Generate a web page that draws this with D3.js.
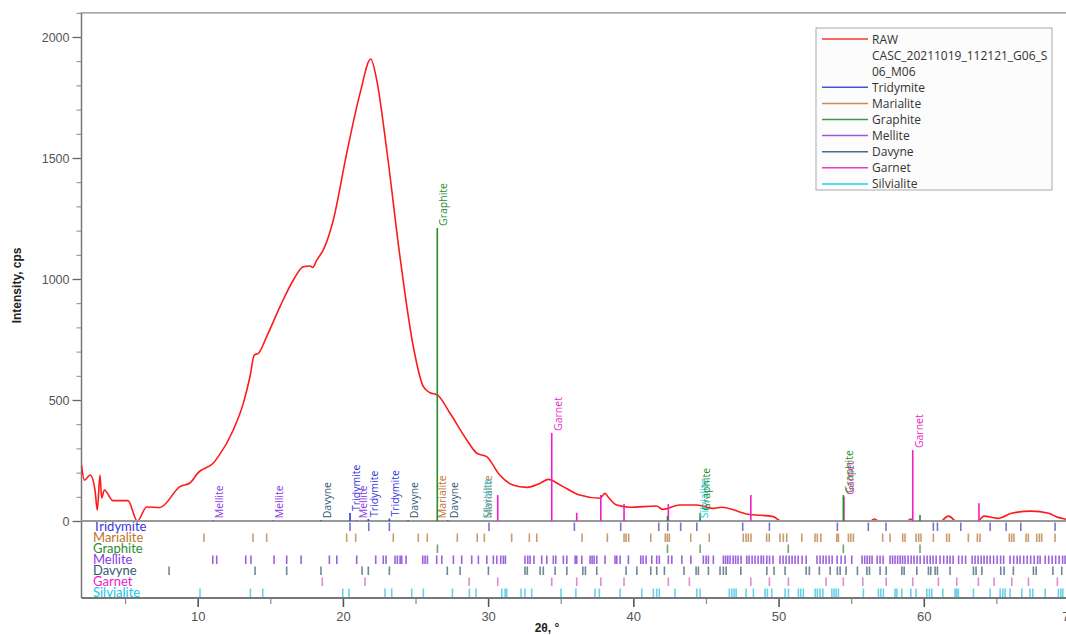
<!DOCTYPE html>
<html>
<head>
<meta charset="utf-8">
<script src="https://cdn.jsdelivr.net/npm/d3@7"></script>
<style>
  html, body { margin: 0; padding: 0; background: #fff; }
</style>
</head>
<body>
<div id="xrd"></div>
<script>
// RAW pattern (2theta, cps)
const rawTheta = [2.0, 2.2, 2.6, 2.93, 3.09, 3.27, 3.39, 3.57, 4.17, 5.2, 5.84, 6.49, 7.4, 8.78, 9.47, 10.04,
  11.08, 11.42, 12.45, 13.14, 13.6, 13.9, 14.18, 14.75, 15.67, 16.59, 17.27, 17.74, 17.92, 18.2, 18.65,
  19.34, 20.26, 21.18, 21.92, 22.33, 23.02, 23.93, 24.85, 25.54, 26.0, 26.5, 27.38, 28.53, 29.22, 29.9,
  30.8, 31.7, 32.66, 33.58, 34.15, 34.96, 36.3, 37.7, 38.05, 38.28, 38.86, 39.78, 41.6, 42.0, 43.2,
  44.37, 45.5, 46.1, 47.8, 49.65, 50.0, 50.6, 56.0, 56.6, 57.2, 58.6, 59.1, 59.6, 60.9, 61.7, 62.5,
  63.6, 64.15, 65.1, 66.05, 67.4, 68.6, 69.2, 70.0];
const rawIntensity = [231, 169, 190, 128, 45, 190, 95, 128, 84, 84, 0, 58, 56, 142, 157, 200,
  240, 266, 376, 486, 596, 686, 693, 762, 886, 996, 1051, 1054, 1048, 1078, 1120,
  1244, 1519, 1767, 1909, 1822, 1533, 1092, 720, 555, 530, 521, 445, 335, 280, 266,
  190, 149, 139, 156, 172, 149, 107, 94, 114, 98, 66, 57, 62, 48, 66,
  66, 52, 57, 29, 18, 4, -15, -15, 8, -15, -15, 8, -15, -15, 20, -15,
  -10, 20, 11, 32, 41, 32, 16, 5];

// phases (row order)
const phaseNames = ["Tridymite", "Marialite", "Graphite", "Mellite", "Davyne", "Garnet", "Silvialite"];
const phaseColors = ["#3535e0", "#c0732a", "#2b8c2b", "#8a38e6", "#2f5a74", "#f01cc8", "#10c8e8"];
const rowTickColors = ["#4848b8", "#b87a3c", "#3d8a3d", "#7a2ed0", "#3c5f74", "#cc66bb", "#33c4e0"];
const legendColors = ["#4452dd", "#cc8a5a", "#3a9a48", "#9a58de", "#4a6a84", "#ee36cc", "#22ccee"];

// reference line positions per phase (2theta)
const tridymiteRefs = [20.49, 21.78, 23.2, 30.06, 35.94, 39.13, 41.75, 42.37, 43.26, 44.37, 47.53, 49.37,
  54.05, 56.18, 57.4, 60.66, 60.94, 62.55, 64.57, 65.67, 66.68, 69.04];
const marialiteRefs = [10.43, 13.81, 14.75, 20.26, 20.88, 23.47, 25.19, 25.81, 27.88, 29.25, 29.74, 31.62,
  32.84, 33.35, 36.47, 38.21, 39.36, 39.5, 39.68, 41.2, 42.2, 42.34, 42.48, 43.95, 45.23, 47.57, 47.76,
  47.92, 48.1, 49.18, 49.36, 50.1, 50.33, 50.56, 51.6, 52.51, 52.67, 52.91, 54.01, 54.12, 54.81, 54.97,
  55.15, 57.17, 57.68, 58.55, 58.71, 59.47, 59.65, 59.81, 60.66, 61.58, 61.76, 63.07, 63.69, 63.87,
  65.89, 66.05, 66.21, 67.04, 67.2, 67.78, 67.96, 68.12, 69.04];
const graphiteRefs = [26.51, 42.35, 44.6, 50.67, 54.46, 59.74];
const melliteRefs = [11.04, 11.31, 13.31, 13.67, 15.26, 16.13, 17.12, 19.07, 19.58, 20.95, 22.26, 22.78,
  22.97, 23.59, 23.75, 23.94, 24.05, 24.35, 25.5, 25.66, 25.82, 26.46, 26.81, 27.61, 28.18, 28.87, 29.33,
  29.91, 30.36, 30.6, 30.87, 31.05, 31.19, 32.54, 32.73, 32.89, 33.16, 33.69, 34.04, 34.49, 34.66, 35.18,
  35.42, 35.99, 36.1, 36.45, 37.02, 37.16, 37.3, 37.48, 38.05, 38.74, 38.86, 39.09, 39.66, 40.51, 40.67,
  40.88, 41.27, 41.61, 41.79, 42.41, 42.65, 43.34, 43.96, 44.82, 45.01, 45.17, 45.51, 46.2, 46.35, 46.5,
  46.66, 46.87, 47.04, 47.21, 47.42, 47.81, 47.97, 48.18, 48.38, 48.59, 48.8, 48.96, 49.19, 49.38, 49.62,
  50.1, 50.31, 50.52, 50.73, 50.93, 51.14, 51.35, 51.62, 51.9, 52.65, 52.86, 53.07, 53.27, 53.48, 53.69,
  54.03, 54.31, 54.58, 55.04, 55.75, 55.93, 56.1, 56.27, 56.44, 56.79, 56.99, 57.2, 57.68, 57.85, 58.02,
  58.2, 58.37, 58.54, 58.71, 58.92, 59.13, 59.33, 59.54, 59.75, 60.02, 60.23, 60.44, 60.64, 60.85, 61.12,
  61.37, 61.61, 61.81, 62.02, 62.4, 62.64, 62.88, 63.33, 63.53, 63.74, 63.95, 64.15, 64.36, 64.57, 64.81,
  65.05, 65.29, 65.5, 65.94, 66.19, 66.43, 66.63, 66.88, 67.12, 67.36, 67.6, 67.84, 68.01, 68.36, 68.6,
  68.84, 69.08, 69.32, 69.56, 69.73];
const davyneRefs = [8.03, 13.95, 16.13, 18.49, 21.32, 21.75, 23.2, 27.19, 28.07, 30.02, 32.54, 32.7, 33.58,
  33.8, 34.61, 35.42, 36.52, 36.7, 37.48, 39.5, 40.24, 41.2, 41.61, 42.14, 43.49, 44.32, 44.48, 45.17,
  45.97, 46.2, 46.39, 47.4, 49.19, 49.69, 50.45, 51.9, 52.12, 52.81, 53.55, 54.05, 54.24, 54.65, 55.43,
  56.08, 56.26, 56.99, 57.41, 58.49, 58.65, 59.52, 60.32, 60.48, 60.78, 60.94, 61.81, 63.42, 63.6, 64.0,
  65.3, 65.53, 66.17, 67.55, 67.74, 68.89, 69.5];
const garnetRefs = [18.58, 21.52, 28.69, 30.66, 34.38, 36.1, 37.76, 39.36, 42.41, 43.86, 48.09, 49.37,
  50.68, 53.27, 54.46, 55.8, 57.41, 59.24, 61.01, 62.27, 63.76, 64.84, 66.06, 67.21, 69.2];
const silvialiteRefs = [10.16, 13.63, 14.48, 19.99, 20.42, 22.9, 23.36, 24.74, 25.54, 27.54, 28.71, 29.17,
  30.94, 31.17, 31.28, 32.27, 32.54, 33.0, 35.02, 36.04, 37.36, 37.66, 39.09, 40.58, 41.38, 41.61, 41.79,
  42.87, 44.37, 44.6, 46.61, 46.78, 46.94, 47.08, 47.76, 48.27, 49.07, 49.23, 49.53, 50.45, 50.68, 51.37,
  51.53, 51.71, 52.52, 52.67, 52.86, 53.05, 53.67, 53.82, 53.96, 54.12, 55.84, 56.88, 57.04, 57.22, 58.02,
  58.14, 58.49, 59.11, 59.47, 60.21, 60.39, 60.55, 61.31, 62.16, 62.27, 62.38, 63.42, 64.57, 65.26, 65.44,
  65.6, 65.94, 66.75, 67.32, 67.51, 68.36, 69.27, 69.44, 69.57];
const phaseRefs = [tridymiteRefs, marialiteRefs, graphiteRefs, melliteRefs, davyneRefs, garnetRefs, silvialiteRefs];

// sticks drawn above the zero line (phase index, 2theta, height in cps, labelled)
const stickPhase = [5, 5, 5, 5, 5, 5, 5, 5, 5, 5,
  0, 0, 0, 3, 3, 3, 4, 4, 4, 1, 1, 6, 6,
  2, 2, 2, 2, 2];
const stickTheta = [30.66, 34.38, 36.1, 37.76, 39.36, 42.41, 48.09, 54.5, 59.24, 63.8,
  20.49, 21.75, 23.2, 11.08, 15.21, 20.95, 18.48, 24.49, 27.22, 26.4, 29.6, 29.5, 44.45,
  26.5, 42.35, 44.6, 54.46, 59.74];
const stickHeight = [107, 364, 34, 107, 70, 70, 107, 100, 293, 73,
  33, 8, 10, 3, 3, 3, 3, 3, 3, 3, 3, 3, 3,
  1211, 20, 34, 107, 25];
const stickLabelled = [false, true, false, false, false, false, false, true, true, false,
  true, true, true, true, true, true, true, true, true, true, true, true, true,
  true, false, true, true, false];

const yMajor = [0, 500, 1000, 1500, 2000];
const xMajor = [10, 20, 30, 40, 50, 60, 70];
const legendLabels = ["RAW", "CASC_20211019_112121_G06_S", "06_M06"];

const width = 1066;
const height = 635;

const x = d3.scaleLinear().domain([2, 70]).range([81.5, 1069]);
const y = d3.scaleLinear().domain([0, 2000]).range([521, 37]);
const rowH = 11;
const rowTop = i => y(0) + i * rowH;
const axisY = rowTop(phaseNames.length);
const topY = y(2100);

const svg = d3.create("svg")
  .attr("width", width)
  .attr("height", height)
  .style("display", "block")
  .style("background", "#fff");

// frame
svg.append("line")
  .attr("x1", x(2)).attr("x2", width)
  .attr("y1", topY).attr("y2", topY)
  .attr("stroke", "#888").attr("stroke-width", 1.2);

// y axis
const yAxis = svg.append("g")
  .attr("transform", `translate(${x(2)},0)`)
  .call(d3.axisLeft(y).tickValues(d3.range(0, 2101, 100)).tickSize(5).tickFormat(""));
const yAxisMajor = svg.append("g")
  .attr("transform", `translate(${x(2)},0)`)
  .call(d3.axisLeft(y).tickValues(yMajor).tickSize(9).tickPadding(3).tickFormat(d3.format("d")));
yAxis.selectAll("path").remove();
yAxisMajor.selectAll("path").remove();
yAxis.selectAll("line").attr("stroke", "#888");
yAxisMajor.selectAll("line").attr("stroke", "#666").attr("stroke-width", 1.3);
yAxisMajor.selectAll("text")
  .attr("fill", "#555")
  .style("font", "12.5px 'Liberation Sans', Arial, sans-serif");
svg.append("line")
  .attr("x1", x(2)).attr("x2", x(2))
  .attr("y1", topY).attr("y2", axisY)
  .attr("stroke", "#777").attr("stroke-width", 1.5);

// x axis
const xAxis = svg.append("g")
  .attr("transform", `translate(0,${axisY})`)
  .call(d3.axisBottom(x).tickValues(d3.range(5, 70, 10)).tickSize(6).tickFormat(""));
const xAxisMajor = svg.append("g")
  .attr("transform", `translate(0,${axisY})`)
  .call(d3.axisBottom(x).tickValues(xMajor).tickSize(9).tickPadding(5));
xAxis.selectAll("path").remove();
xAxisMajor.selectAll("path").remove();
xAxis.selectAll("line").attr("stroke", "#888").attr("stroke-width", 1.2);
xAxisMajor.selectAll("line").attr("stroke", "#555").attr("stroke-width", 1.6);
xAxisMajor.selectAll("text")
  .attr("fill", "#555")
  .style("font", "13px 'Liberation Sans', Arial, sans-serif");
svg.append("line")
  .attr("x1", x(2)).attr("x2", width)
  .attr("y1", axisY).attr("y2", axisY)
  .attr("stroke", "#777").attr("stroke-width", 2);

// axis titles
svg.append("text")
  .attr("transform", `translate(21,${(topY + axisY) / 2 - 20}) rotate(-90)`)
  .attr("text-anchor", "middle")
  .style("font", "bold 12px 'Liberation Sans', Arial, sans-serif")
  .attr("fill", "#222")
  .text("Intensity, cps");
svg.append("text")
  .attr("x", 547).attr("y", 632)
  .attr("text-anchor", "middle")
  .style("font", "bold 12px 'Liberation Sans', Arial, sans-serif")
  .attr("fill", "#222")
  .text("2θ, °");

// phase rows
phaseNames.forEach((name, i) => {
  svg.append("g")
    .selectAll("line")
    .data(phaseRefs[i])
    .join("line")
    .attr("x1", d => x(d)).attr("x2", d => x(d))
    .attr("y1", rowTop(i) + 1.5).attr("y2", rowTop(i) + 10)
    .attr("stroke", rowTickColors[i])
    .attr("stroke-opacity", 0.75)
    .attr("stroke-width", 1.6);

  svg.append("text")
    .attr("x", 93).attr("y", rowTop(i) + 10)
    .attr("fill", phaseColors[i])
    .style("font", "13px Lato, sans-serif")
    .text(name);
});

// raw curve, clipped at the zero line
svg.append("clipPath").attr("id", "above")
  .append("rect")
  .attr("x", x(2)).attr("y", topY)
  .attr("width", width).attr("height", y(0) - topY);

const rawPoints = rawTheta.map((t, i) => [t, rawIntensity[i]]);
svg.append("path")
  .datum(rawPoints)
  .attr("clip-path", "url(#above)")
  .attr("fill", "none")
  .attr("stroke", "#ff1a1a")
  .attr("stroke-width", 1.6)
  .attr("d", d3.line()
    .x(d => x(d[0]))
    .y(d => y(d[1]))
    .curve(d3.curveMonotoneX));

// zero line
svg.append("line")
  .attr("x1", x(2)).attr("x2", width)
  .attr("y1", y(0)).attr("y2", y(0))
  .attr("stroke", "#999").attr("stroke-width", 2);

// sticks + labels
const sticks = stickTheta.map((t, i) => ({
  phase: stickPhase[i], theta: t, h: stickHeight[i], lab: stickLabelled[i]
}));

svg.append("g")
  .selectAll("line")
  .data(sticks)
  .join("line")
  .attr("x1", d => x(d.theta)).attr("x2", d => x(d.theta))
  .attr("y1", y(0)).attr("y2", d => y(d.h))
  .attr("stroke", d => phaseColors[d.phase])
  .attr("stroke-width", 1.6);

svg.append("g")
  .selectAll("text")
  .data(sticks.filter(d => d.lab))
  .join("text")
  .attr("transform", d => `translate(${x(d.theta) + 10},${y(d.h) - 2}) rotate(-90)`)
  .attr("fill", d => phaseColors[d.phase])
  .style("font", "10.5px 'Open Sans', sans-serif")
  .text(d => phaseNames[d.phase]);

// legend
const legend = svg.append("g").attr("transform", "translate(816,28)");
legend.append("rect")
  .attr("width", 236).attr("height", 162)
  .attr("fill", "#fcfcfc")
  .attr("stroke", "#aaa");
const legendRows = legendLabels.concat(phaseNames);
const legendLine = [0, -1, -1, 1, 2, 3, 4, 5, 6, 7];
legendRows.forEach((label, i) => {
  const ly = 11 + i * 16.1;
  const li = legendLine[i];
  if (li >= 0) {
    legend.append("line")
      .attr("x1", 6).attr("x2", 52)
      .attr("y1", ly).attr("y2", ly)
      .attr("stroke", li === 0 ? "#ff3333" : legendColors[li - 1])
      .attr("stroke-width", 1.5);
  }
  legend.append("text")
    .attr("x", 56).attr("y", ly + 4.5)
    .attr("fill", "#333")
    .style("font", "12px 'Open Sans', sans-serif")
    .text(label);
});

document.getElementById("xrd").append(svg.node());
</script>
</body>
</html>
